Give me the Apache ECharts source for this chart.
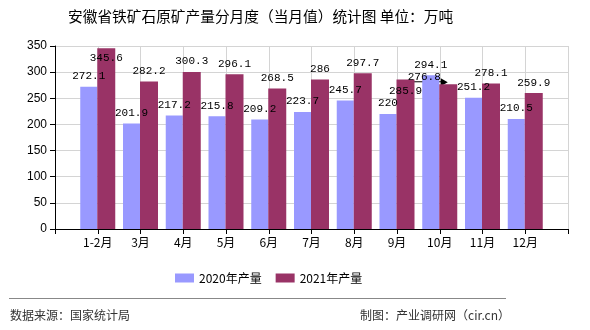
<!DOCTYPE html>
<html><head><meta charset="utf-8">
<script src="https://cdn.jsdelivr.net/npm/echarts@6/dist/echarts.min.js"></script>
<style>html,body{margin:0;padding:0;background:#fff}#c{width:590px;height:330px}</style>
</head><body><div id="c"></div>
<script>
const categories = ['1-2月','3月','4月','5月','6月','7月','8月','9月','10月','11月','12月'];
const values2020 = [272.1, 201.9, 217.2, 215.8, 209.2, 223.7, 245.7, 220, 294.1, 251.2, 210.5];
const values2021 = [345.6, 282.2, 300.3, 296.1, 268.5, 286, 297.7, 285.9, 276.8, 278.1, 259.9];
const yTicks = [0, 50, 100, 150, 200, 250, 300, 350];
const seriesNames = ['2020年产量', '2021年产量'];

// label nudges (style only), by series and category index
const labelNudge = { 1: { 0: [0, 20], 7: [0, 22], 8: [-24, 3] } };

const axisCats = [''].concat(categories, ['']);
function build(vals, si) {
  const out = [null];
  vals.forEach((v, i) => {
    const n = labelNudge[si] && labelNudge[si][i];
    out.push(n ? { value: v, label: { offset: n } } : v);
  });
  out.push(null);
  return out;
}
const labelStyle = { show: true, position: 'top', distance: 5, color: '#000',
  fontFamily: 'Liberation Mono, DejaVu Sans Mono, monospace', fontSize: 11 };

const chart = echarts.init(document.getElementById('c'), null, { renderer: 'canvas' });
chart.setOption({
  animation: false,
  backgroundColor: '#fff',
  title: { text: '安徽省铁矿石原矿产量分月度（当月值）统计图 单位：万吨', left: 68, top: 9, padding: 0,
    textStyle: { fontSize: 14.7, fontWeight: 'normal', color: '#000', fontFamily: 'Noto Sans CJK SC' } },
  legend: { data: seriesNames, left: 170, top: 267, itemWidth: 19, itemHeight: 9, itemGap: 14, icon: 'rect',
    textStyle: { fontSize: 12, color: '#000', fontFamily: 'Noto Sans CJK SC' } },
  grid: { left: 55, right: 22, top: 46, bottom: 101, containLabel: false },
  xAxis: { type: 'category', data: axisCats, boundaryGap: false,
    axisLine: { lineStyle: { color: '#000', width: 1 } },
    axisTick: { show: true, length: 5, interval: 0, lineStyle: { color: '#000' } },
    axisLabel: { interval: 0, color: '#000', fontSize: 12, margin: 7, fontFamily: 'Noto Sans CJK SC' },
    splitLine: { show: true, interval: 0, lineStyle: { color: '#d4d4d4' } } },
  yAxis: { type: 'value', min: yTicks[0], max: yTicks[yTicks.length - 1], interval: yTicks[1] - yTicks[0],
    axisLine: { show: true, lineStyle: { color: '#000' } },
    axisTick: { show: true, length: 5, lineStyle: { color: '#000' } },
    axisLabel: { color: '#000', fontSize: 12, margin: 8, fontFamily: 'Liberation Sans, Arial' },
    splitLine: { show: true, lineStyle: { color: '#d4d4d4' } } },
  series: [
    { name: seriesNames[0], type: 'bar', data: build(values2020, 0), barWidth: 17, barGap: '0%',
      itemStyle: { color: '#9999ff' }, label: labelStyle },
    { name: seriesNames[1], type: 'bar', data: build(values2021, 1), barWidth: 18, barGap: '0%',
      itemStyle: { color: '#993366' }, label: labelStyle }
  ]
});
// leader arrow for the displaced 10月 label, plus footer
const p = chart.convertToPixel({ gridIndex: 0 }, ['10月', values2021[8]]);
chart.setOption({ graphic: [
  { id: 'sep', type: 'line', shape: { x1: 9, y1: 298.5, x2: 506, y2: 298.5 }, style: { stroke: '#888', lineWidth: 1 } },
  { id: 'src', type: 'text', left: 10, top: 309, style: { text: '数据来源：国家统计局', fill: '#333', font: '12px "Noto Sans CJK SC"' } },
  { id: 'mk', type: 'text', right: 80, top: 309, style: { text: '制图：产业调研网（cir.cn）', fill: '#333', font: '12px "Noto Sans CJK SC"' } },
  { id: 'al', type: 'line', shape: { x1: p[0] - 28, y1: p[1] - 2.5, x2: p[0] + 2, y2: p[1] - 2.5 }, style: { stroke: '#000', lineWidth: 1 } },
  { id: 'ah', type: 'polygon', shape: { points: [[p[0] + 8, p[1] - 2], [p[0] + 1, p[1] - 6], [p[0] + 1, p[1] + 2]] }, style: { fill: '#000' } }
] });
</script></body></html>
